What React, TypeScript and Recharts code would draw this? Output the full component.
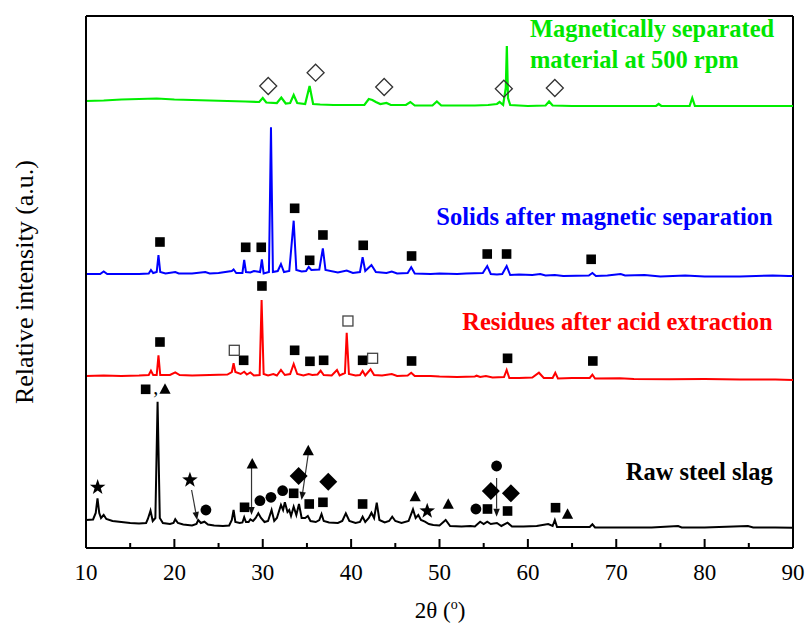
import React from 'react'
import {
  ComposedChart, Line, Scatter, XAxis, YAxis, ReferenceLine,
} from 'recharts'

// 2θ (deg), intensity (a.u., stacked offsets as plotted)
const greenPts: [number, number][] = [
  [10, 447], [12, 447.5], [14, 448.5], [16, 449], [18, 449.5], [19, 449], [20, 448.5], [22, 448],
  [24, 447.5], [26, 447], [28, 446.5], [29.6, 446], [30.0, 450], [30.4, 445.5], [31.6, 445],
  [32.1, 450.5], [32.6, 444.5], [33.1, 445], [33.5, 453], [33.9, 445], [34.8, 444], [35.3, 462],
  [35.7, 444], [36.5, 443.5], [38, 443], [40, 443], [41.5, 443], [42.0, 449], [42.4, 448],
  [42.8, 446], [43.3, 444], [44, 445], [44.5, 443], [46.2, 443], [46.7, 446], [47.2, 442.5],
  [49.2, 442.5], [49.7, 446.5], [50.2, 442.5], [52, 442.5], [54, 442.5], [55.5, 443], [56.5, 444],
  [56.8, 446], [57.2, 443], [57.5, 460], [57.62, 502], [57.75, 450], [58, 443], [60, 442],
  [62.0, 442.5], [62.4, 446.5], [62.8, 442.5], [65, 442], [70, 442], [74.5, 442], [74.8, 444],
  [75.1, 442], [78.3, 442], [78.6, 450], [78.9, 442], [82, 442], [86, 442], [90, 442],
]

const bluePts: [number, number][] = [
  [10, 274], [11.6, 274], [12.0, 276.5], [12.4, 274], [14, 274], [16, 274], [17.1, 274.5],
  [17.35, 278], [17.6, 275], [18.0, 276], [18.2, 293], [18.4, 276], [19, 274.5], [20.1, 276],
  [20.5, 274.5], [22, 274.5], [23.5, 276], [24, 274.5], [25, 275], [26.5, 277], [26.7, 278.5],
  [27, 275], [27.7, 275], [27.9, 288], [28.1, 276], [28.6, 275.5], [29.0, 277], [29.7, 276],
  [29.9, 288.5], [30.1, 274.5], [30.7, 276], [30.93, 420.7], [31.15, 276], [31.7, 277],
  [32.06, 284], [32.4, 276], [33.0, 277], [33.5, 327.3], [33.8, 278], [34.4, 276.5], [34.9, 277],
  [35.2, 281], [35.5, 278], [36.4, 278.5], [36.8, 299.7], [37.1, 278], [38.5, 275.5],
  [39.5, 277.5], [40.2, 275], [41.0, 276], [41.3, 290.7], [41.6, 277], [42.3, 283], [42.8, 276],
  [44.0, 275], [44.6, 276.5], [45.2, 274.5], [46.4, 275], [46.8, 280.7], [47.2, 274.5], [49, 274],
  [50, 274.5], [52, 274], [53, 274.5], [54.9, 275], [55.4, 282], [55.8, 274], [56.5, 273.5],
  [57.1, 274], [57.6, 282], [58.0, 273], [59, 273.5], [60.5, 273], [61.4, 274], [62, 272.5],
  [63.05, 273], [64, 272], [66.9, 272.5], [67.3, 275], [67.7, 272], [69, 272.5], [70.5, 274],
  [71, 272.5], [73.2, 273], [75, 271.5], [77.8, 272.5], [80, 271.5], [84, 271.5], [87.7, 272.5],
  [89.5, 272], [90, 272],
]

const redPts: [number, number][] = [
  [10, 172], [12, 172.5], [14, 172], [16, 172.5], [17.1, 173], [17.35, 177.3], [17.6, 173],
  [18.0, 173], [18.2, 192.7], [18.4, 173], [19.5, 173], [20.1, 175.7], [20.6, 173], [22, 172.5],
  [24, 173], [26.0, 173.5], [26.5, 176], [26.7, 184.7], [26.9, 176], [27.5, 174], [27.9, 176.3],
  [28.2, 173.5], [28.6, 175.5], [29.0, 172.5], [29.65, 173], [29.87, 248], [30.1, 174],
  [30.6, 172.5], [31.2, 174], [31.6, 172.5], [32.06, 178], [32.5, 173], [33.1, 174], [33.5, 184],
  [33.9, 174], [34.6, 172.5], [35.2, 174], [35.6, 173], [36.2, 173.5], [36.55, 177.3], [36.9, 173],
  [37.8, 172.5], [38.4, 178], [38.7, 172.5], [39.3, 175], [39.5, 215.3], [39.75, 174],
  [40.5, 172.5], [41.0, 173], [41.3, 177], [41.6, 172.5], [42.2, 178.7], [42.6, 173],
  [43.5, 172.5], [44.6, 174], [45.2, 172], [46.4, 172.5], [46.8, 175.3], [47.2, 172], [49, 172],
  [50, 171.5], [52, 171], [54.0, 171.5], [54.2, 172.3], [54.6, 171], [55.25, 172], [56, 170.5],
  [57.3, 171], [57.6, 178], [57.9, 170], [59, 170], [60.5, 170.5], [61.25, 175.3], [61.8, 170],
  [62.8, 170], [63.1, 175.3], [63.4, 169.5], [65, 170], [67.0, 170], [67.3, 173.3], [67.6, 169.5],
  [70.4, 169.8], [72, 169], [76, 168.8], [80, 169], [84, 168.5], [88, 168.5], [90, 168],
]

const blackPts: [number, number][] = [
  [10, 28], [10.8, 28.5], [11.1, 35], [11.3, 49.7], [11.5, 35], [11.7, 30], [12.0, 33], [12.3, 29],
  [13, 27], [14, 26], [15, 25], [16, 24.5], [16.8, 25], [17.0, 29], [17.3, 37.3], [17.55, 27],
  [17.85, 30], [18.1, 146.3], [18.35, 30], [18.7, 25], [19.5, 24], [19.9, 25], [20.1, 28.7],
  [20.4, 25], [21, 23.5], [22, 22.5], [22.5, 24], [22.7, 28], [23.0, 25], [23.4, 26.3],
  [23.8, 23.5], [24.5, 22.5], [25.5, 22], [26.2, 22.5], [26.5, 28], [26.7, 38], [26.9, 26],
  [27.4, 25], [27.7, 25.5], [27.9, 30.7], [28.1, 26], [28.4, 26], [28.6, 28.7], [28.9, 27],
  [29.2, 30], [29.5, 34.7], [29.8, 30], [30.2, 26], [30.6, 27], [31.0, 38], [31.3, 27], [31.6, 30],
  [32.06, 43], [32.3, 38], [32.5, 45.7], [32.8, 36], [33.0, 38], [33.2, 32], [33.5, 41.3],
  [33.8, 33], [34.1, 44], [34.4, 30], [34.8, 30], [35.1, 32], [35.4, 27], [36.0, 26], [36.4, 28],
  [36.65, 34], [36.9, 27], [37.5, 25.5], [38.5, 25], [39.0, 27], [39.4, 34.7], [39.8, 27],
  [40.5, 25], [41.0, 26], [41.3, 31.3], [41.6, 26], [42.0, 30], [42.3, 35.3], [42.6, 30],
  [42.9, 45.3], [43.2, 28], [43.8, 25.5], [44.3, 27], [44.65, 31.3], [45.0, 27], [45.7, 25],
  [46.5, 27], [47.0, 38.7], [47.3, 30], [47.6, 33], [47.9, 28], [48.35, 26.3], [48.8, 24],
  [49.3, 23], [50.0, 22.5], [50.7, 28], [51.2, 22], [52.5, 21.5], [53.5, 22], [54.0, 21.5],
  [54.6, 26.3], [55.0, 24], [55.4, 26.3], [55.8, 24], [56.5, 25], [57.0, 22], [57.7, 25.3],
  [58.2, 21.5], [59.5, 21.5], [61, 22], [62.3, 24], [62.8, 22], [63.05, 28], [63.3, 21], [65, 21],
  [67.0, 21], [67.3, 23.7], [67.6, 20.5], [70, 20.5], [74, 20.5], [77.0, 22], [77.4, 20.5],
  [80, 20.5], [84.9, 22], [85.5, 20.5], [88, 20.5], [90, 20.3],
]

// phase markers [2θ, level]
const hollowDiamonds: [number, number][] = [
  [30.62, 462], [35.98, 475.3], [43.74, 461], [57.28, 459.3], [63.05, 460],
]
const filledSquares: [number, number][] = [
  // blue
  [18.37, 306], [28.07, 300.7], [29.83, 300.7], [33.61, 339.7], [35.31, 287.7], [36.81, 313],
  [41.37, 302.7], [46.84, 292], [55.40, 294], [57.59, 294], [67.16, 288.7],
  // red
  [18.37, 206], [27.84, 187.7], [29.91, 262], [33.61, 197.7], [35.34, 186.7], [36.89, 187.7],
  [41.30, 187.7], [46.84, 187], [57.70, 189.7], [67.35, 187],
  // black
  [16.75, 158.7], [27.94, 40.7], [33.5, 54.7], [35.26, 44], [36.81, 45.7], [41.3, 44],
  [55.43, 39], [57.70, 37], [63.13, 40.3],
]
const hollowSquares: [number, number][] = [[26.78, 197.7], [39.64, 227], [42.43, 189.7]]
const triangles: [number, number][] = [
  [18.94, 158.7], [28.81, 84], [35.15, 97.3], [47.25, 51.3], [50.99, 43.7], [64.49, 33.7],
]
const circles: [number, number][] = [
  [23.57, 38], [29.68, 47.3], [30.93, 50.7], [32.25, 57.3], [54.12, 39], [56.46, 82],
]
const stars: [number, number][] = [[11.32, 60.7], [21.76, 68], [48.61, 37]]
const filledDiamonds: [number, number][] = [[34.06, 72], [37.41, 66.3], [55.81, 57], [58.08, 54.7]]
const commas: [number, number][] = [[17.62, 154]]
const arrows: [number, number, number, number][] = [
  [21.95, 58, 22.58, 28], [28.73, 80, 28.73, 33], [35.15, 94, 34.39, 48], [56.46, 70, 56.46, 31.3],
]

const xTicks = [10, 15, 20, 25, 30, 35, 40, 45, 50, 55, 60, 65, 70, 75, 80, 85, 90]

const traceLabels = [
  { x: 60.23, y: 511, text: 'Magnetically separated', color: '#00e600', anchor: 'start' },
  { x: 60.23, y: 480, text: 'material at 500 rpm', color: '#00e600', anchor: 'start' },
  { x: 87.71, y: 323, text: 'Solids after magnetic separation', color: '#0000ff', anchor: 'end' },
  { x: 87.71, y: 218, text: 'Residues after acid extraction', color: '#ff0000', anchor: 'end' },
  { x: 87.71, y: 68, text: 'Raw steel slag', color: '#000000', anchor: 'end' },
]

const FONT = "'Liberation Serif', 'Times New Roman', Times, serif"

const toXY = (pts: [number, number][]) => pts.map(([x, y]) => ({ x, y }))

function XTick({ x, y, payload }: any) {
  const major = payload.value % 10 === 0
  return (
    <g>
      <line x1={x} x2={x} y1={y} y2={y - (major ? 9 : 5)} stroke="#000" strokeWidth={2} />
      {major && (
        <text x={x} y={y + 32} textAnchor="middle" fontSize={23} fontFamily={FONT} fill="#000">
          {payload.value}
        </text>
      )}
    </g>
  )
}

const squareShape = ({ cx, cy }: any) => <rect x={cx - 4.8} y={cy - 4.8} width={9.6} height={9.6} fill="#000" />
const hollowSquareShape = ({ cx, cy }: any) => (
  <rect x={cx - 5} y={cy - 5} width={10} height={10} fill="#fff" stroke="#444" strokeWidth={1.3} />
)
const circleShape = ({ cx, cy }: any) => <circle cx={cx} cy={cy} r={5.4} fill="#000" />
const triangleShape = ({ cx, cy }: any) => (
  <polygon points={`${cx},${cy - 6} ${cx - 5.6},${cy + 4.5} ${cx + 5.6},${cy + 4.5}`} fill="#000" />
)
const diamondShape = (fill: boolean, r: number) => ({ cx, cy }: any) => (
  <polygon
    points={`${cx},${cy - r} ${cx + r},${cy} ${cx},${cy + r} ${cx - r},${cy}`}
    fill={fill ? '#000' : 'none'}
    stroke={fill ? '#000' : '#333'}
    strokeWidth={fill ? 0 : 1.3}
  />
)
const starShape = ({ cx, cy }: any) => {
  const pts: string[] = []
  for (let i = 0; i < 10; i++) {
    const r = i % 2 === 0 ? 8.2 : 3.3
    const a = -Math.PI / 2 + (i * Math.PI) / 5
    pts.push(`${cx + r * Math.cos(a)},${cy + r * Math.sin(a)}`)
  }
  return <polygon points={pts.join(' ')} fill="#000" />
}
const commaShape = ({ cx, cy }: any) => (
  <text x={cx} y={cy} fontSize={20} fontFamily={FONT} fill="#000">,</text>
)
const labelShape = ({ cx, cy, payload }: any) => (
  <text x={cx} y={cy} textAnchor={payload.anchor} fontSize={24.5} fontWeight="bold" fontFamily={FONT} fill={payload.color}>
    {payload.text}
  </text>
)

function ArrowShape({ x1, y1, x2, y2 }: any) {
  const a = Math.atan2(y2 - y1, x2 - x1)
  const len = 8
  const w = 3.2
  const bx = x2 - len * Math.cos(a)
  const by = y2 - len * Math.sin(a)
  const px = -Math.sin(a) * w
  const py = Math.cos(a) * w
  return (
    <g>
      <line x1={x1} y1={y1} x2={bx} y2={by} stroke="#333" strokeWidth={1.2} />
      <polygon points={`${x2},${y2} ${bx + px},${by + py} ${bx - px},${by - py}`} fill="#111" />
    </g>
  )
}

function YLabel() {
  const cy = 282
  return (
    <text x={33} y={cy} transform={`rotate(-90 33 ${cy})`} textAnchor="middle" fontSize={26} fontFamily={FONT} fill="#000">
      Relative intensity (a.u.)
    </text>
  )
}

function XLabel() {
  return (
    <text x={440} y={618} textAnchor="middle" fontSize={23} fontFamily={FONT} fill="#000">
      2θ (<tspan fontSize={14} dy={-9}>o</tspan><tspan dy={9}>)</tspan>
    </text>
  )
}

export default function App() {
  return (
    <div style={{ position: 'absolute', left: 0, top: 0, background: '#fff' }}>
      <ComposedChart width={806} height={630} margin={{ top: 16, right: 13, bottom: 42, left: 76 }}>
        <XAxis
          dataKey="x"
          type="number"
          domain={[10, 90]}
          ticks={xTicks}
          tick={<XTick />}
          tickLine={false}
          tickSize={0}
          tickMargin={0}
          height={40}
          axisLine={{ stroke: '#000', strokeWidth: 2 }}
          allowDataOverflow
          interval={0}
          label={<XLabel />}
        />
        <YAxis
          dataKey="y"
          type="number"
          domain={[0, 532]}
          width={10}
          tick={false}
          tickLine={false}
          axisLine={{ stroke: '#000', strokeWidth: 2 }}
          allowDataOverflow
          label={<YLabel />}
        />
        <ReferenceLine y={532} stroke="#000" strokeWidth={2} />
        <ReferenceLine x={90} stroke="#000" strokeWidth={2} />

        <Line data={toXY(greenPts)} dataKey="y" type="linear" stroke="#00ee00" strokeWidth={2.2} dot={false} isAnimationActive={false} />
        <Line data={toXY(bluePts)} dataKey="y" type="linear" stroke="#0000ff" strokeWidth={2} dot={false} isAnimationActive={false} />
        <Line data={toXY(redPts)} dataKey="y" type="linear" stroke="#ff0000" strokeWidth={2} dot={false} isAnimationActive={false} />
        <Line data={toXY(blackPts)} dataKey="y" type="linear" stroke="#000000" strokeWidth={2} dot={false} isAnimationActive={false} />

        {arrows.map(([xa, ya, xb, yb], i) => (
          <ReferenceLine key={i} segment={[{ x: xa, y: ya }, { x: xb, y: yb }]} shape={ArrowShape} />
        ))}

        <Scatter data={toXY(hollowDiamonds)} dataKey="y" shape={diamondShape(false, 8.5)} isAnimationActive={false} />
        <Scatter data={toXY(filledDiamonds)} dataKey="y" shape={diamondShape(true, 9)} isAnimationActive={false} />
        <Scatter data={toXY(filledSquares)} dataKey="y" shape={squareShape} isAnimationActive={false} />
        <Scatter data={toXY(hollowSquares)} dataKey="y" shape={hollowSquareShape} isAnimationActive={false} />
        <Scatter data={toXY(triangles)} dataKey="y" shape={triangleShape} isAnimationActive={false} />
        <Scatter data={toXY(circles)} dataKey="y" shape={circleShape} isAnimationActive={false} />
        <Scatter data={toXY(stars)} dataKey="y" shape={starShape} isAnimationActive={false} />
        <Scatter data={toXY(commas)} dataKey="y" shape={commaShape} isAnimationActive={false} />
        <Scatter data={traceLabels} dataKey="y" shape={labelShape} isAnimationActive={false} />
      </ComposedChart>
    </div>
  )
}
